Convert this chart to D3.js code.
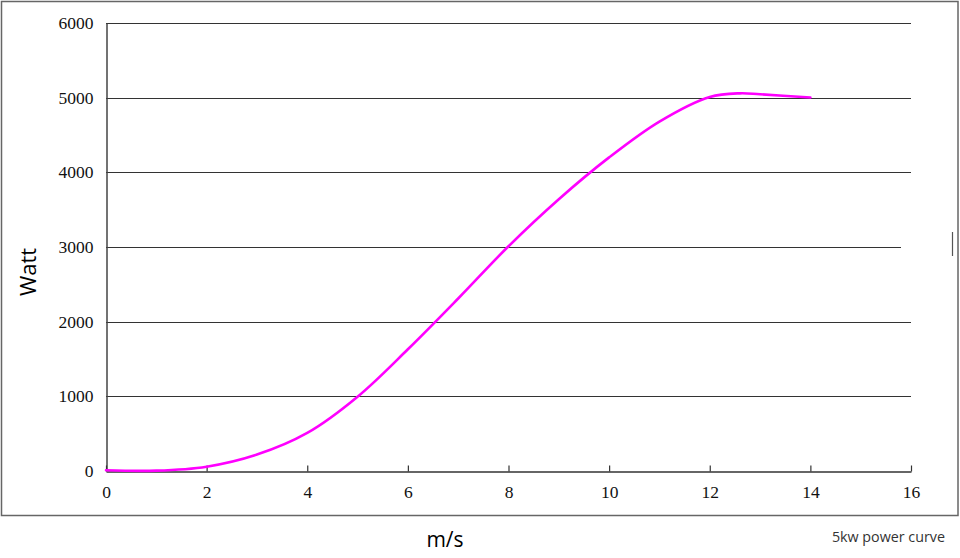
<!DOCTYPE html>
<html>
<head>
<meta charset="utf-8">
<script src="https://cdn.jsdelivr.net/npm/d3@7"></script>
<style>
    body { margin: 0; background: #ffffff; }
</style>
</head>
<body>
<div id="chart"></div>
<script>
// Power curve readings (wind speed m/s -> watts)
var wind_speeds = [0, 1, 2, 3, 4, 5, 6, 7, 8, 9, 10, 11, 12, 12.6, 13, 14];
var power_watts = [10, 5, 58, 220, 510, 995, 1630, 2310, 3010, 3640, 4200, 4680, 5010, 5058, 5045, 5002];

var x_ticks = [0, 2, 4, 6, 8, 10, 12, 14, 16];
var y_ticks = [0, 1000, 2000, 3000, 4000, 5000, 6000];

var width = 960,
    height = 558;

var svg = d3.select('#chart').append('svg')
    .attr('width', width)
    .attr('height', height);

// Outer frame
svg.append('rect')
    .attr('x', 1.5).attr('y', 1.5)
    .attr('width', 956.5).attr('height', 514)
    .attr('fill', 'none')
    .attr('stroke', '#666666')
    .attr('stroke-width', 1.5);

var x = d3.scaleLinear().domain([0, 16]).range([106, 911]),
    y = d3.scaleLinear().domain([0, 6000]).range([471, 23]);

// Gridlines (the 3000 line stops a little short, as in the original)
svg.selectAll('.grid')
    .data(y_ticks.slice(1))
    .enter().append('line')
    .attr('class', 'grid')
    .attr('x1', x(0))
    .attr('x2', function(d) { return d === 3000 ? x(16) - 10 : x(16); })
    .attr('y1', function(d) { return Math.round(y(d)) + 0.5; })
    .attr('y2', function(d) { return Math.round(y(d)) + 0.5; })
    .style('stroke', '#333333')
    .style('stroke-width', 1.2);

// Y axis
var y_axis = svg.append('g')
    .attr('transform', 'translate(' + (x(0) + 0.5) + ',0)')
    .call(d3.axisLeft(y).tickValues(y_ticks).tickFormat(d3.format('d'))
        .tickSize(0).tickPadding(13));

y_axis.select('.domain').style('stroke', '#444444').style('stroke-width', 1.5);
y_axis.selectAll('text')
    .style('font-family', '"Liberation Serif", serif')
    .style('font-size', '17.5px')
    .style('fill', '#111111');

// X axis, ticks point up into the plot
var x_axis = svg.append('g')
    .attr('transform', 'translate(0,' + (y(0) + 0.5) + ')')
    .call(d3.axisBottom(x).tickValues(x_ticks).tickFormat(d3.format('d'))
        .tickSizeInner(-6).tickSizeOuter(0).tickPadding(14));

x_axis.select('.domain').style('stroke', '#666666').style('stroke-width', 2);
x_axis.selectAll('.tick line').style('stroke', '#333333').style('stroke-width', 1.2);
x_axis.selectAll('text')
    .style('font-family', '"Liberation Serif", serif')
    .style('font-size', '17.5px')
    .style('fill', '#111111');

// Power curve
var points = wind_speeds.map(function(d, i) { return [d, power_watts[i]]; });

var line = d3.line()
    .x(function(d) { return x(d[0]); })
    .y(function(d) { return y(d[1]); })
    .curve(d3.curveCatmullRom.alpha(0.5));

svg.append('path')
    .datum(points)
    .attr('d', line)
    .attr('fill', 'none')
    .attr('stroke', '#ff00ff')
    .attr('stroke-width', 2.6)
    .attr('stroke-linecap', 'round');

// Axis titles
svg.append('text')
    .attr('transform', 'translate(36,272) rotate(-90)')
    .attr('text-anchor', 'middle')
    .style('font-family', '"Open Sans", sans-serif')
    .style('font-size', '22px')
    .style('fill', '#000000')
    .text('Watt');

svg.append('text')
    .attr('x', 445).attr('y', 547)
    .attr('text-anchor', 'middle')
    .style('font-family', '"Open Sans", sans-serif')
    .style('font-size', '21px')
    .style('fill', '#000000')
    .text('m/s');

svg.append('text')
    .attr('x', 945).attr('y', 542)
    .attr('text-anchor', 'end')
    .style('font-family', '"Open Sans", sans-serif')
    .style('font-size', '14.3px')
    .style('fill', '#333333')
    .text('5kw power curve');

// Stray mark at the right edge
svg.append('line')
    .attr('x1', 952.5).attr('x2', 952.5)
    .attr('y1', 232).attr('y2', 256)
    .style('stroke', '#555555')
    .style('stroke-width', 1.2);
</script>
</body>
</html>
